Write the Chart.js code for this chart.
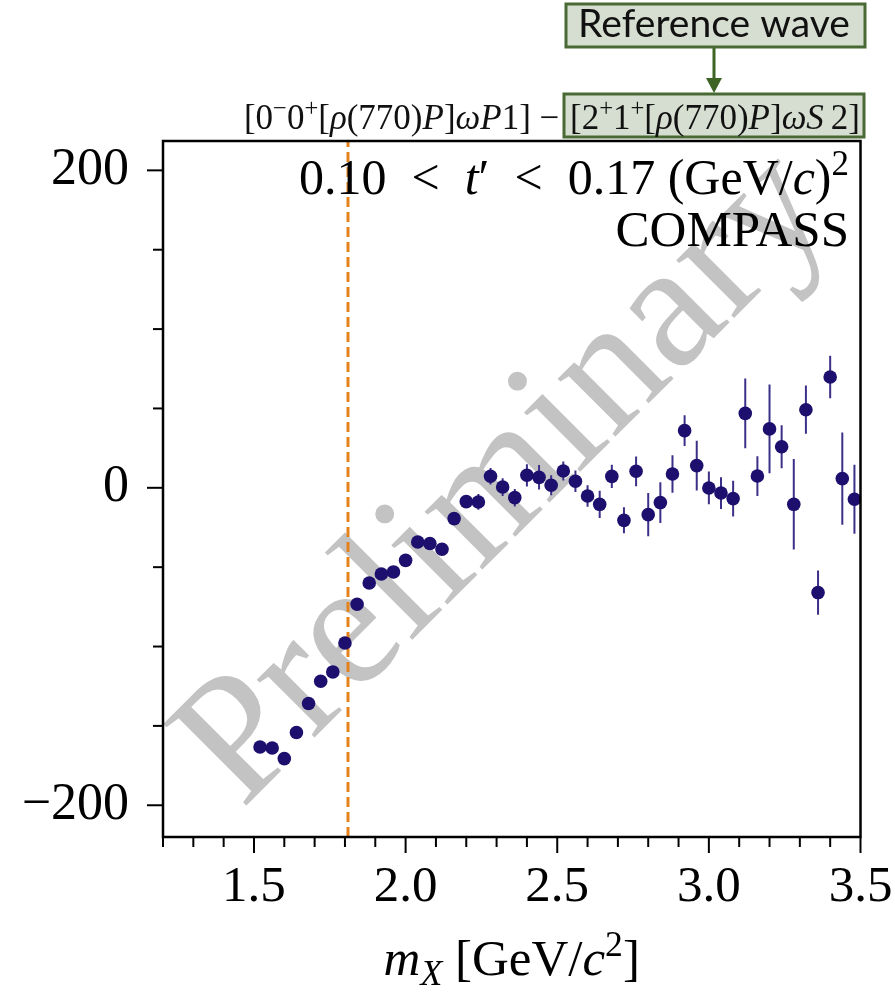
<!DOCTYPE html>
<html>
<head>
<meta charset="utf-8">
<script src="https://cdn.jsdelivr.net/npm/chart.js@4.4.1/dist/chart.umd.min.js"></script>
<style>
  html, body { margin: 0; padding: 0; background: #fff; }
  #wrap { width: 895px; height: 998px; position: relative; }
</style>
</head>
<body>
<div id="wrap"><canvas id="grafico"></canvas></div>
<script>
// masa m_X en GeV/c^2 (centros de bin)
const masas = [1.52, 1.56, 1.60, 1.64, 1.68, 1.72, 1.76, 1.80, 1.84, 1.88,
               1.92, 1.96, 2.00, 2.04, 2.08, 2.12, 2.16, 2.20, 2.24, 2.28,
               2.32, 2.36, 2.40, 2.44, 2.48, 2.52, 2.56, 2.60, 2.64, 2.68,
               2.72, 2.76, 2.80, 2.84, 2.88, 2.92, 2.96, 3.00, 3.04, 3.08,
               3.12, 3.16, 3.20, 3.24, 3.28, 3.32, 3.36, 3.40, 3.44, 3.48];
// fase relativa (grados)
const fases = [-163.3, -163.9, -170.6, -154.2, -135.9, -121.9, -116.0, -97.8, -73.4, -60.0,
               -54.3, -53.0, -45.7, -34.1, -35.1, -38.7, -19.4, -8.7, -8.9, 7.3,
               0.5, -6.2, 7.9, 6.6, 1.6, 10.6, 4.1, -5.2, -10.4, 7.2,
               -20.5, 10.4, -16.9, -9.3, 8.7, 36.0, 14.0, -0.1, -3.3, -6.8,
               46.9, 7.4, 37.1, 25.9, -10.4, 49.2, -66.0, 69.8, 5.8, -7.2];
const errores = [2, 2, 2, 2, 2, 2.5, 2.5, 2.5, 2.5, 3,
                 3, 3, 3, 3, 3, 3.5, 3.5, 4, 5, 5.2,
                 5.6, 5.5, 7, 7.7, 6.3, 6, 6.8, 6.8, 8.6, 7.3,
                 8.2, 9.4, 13.6, 12.8, 11.8, 9.7, 15.7, 10.3, 10, 11.3,
                 22, 12.5, 28, 13.5, 28.5, 15.2, 13.9, 13.4, 29, 21.7];
const etiquetasX = ['1.5', '2.0', '2.5', '3.0', '3.5'];
const valoresY = [-200, 0, 200];
const limitesX = [1.2, 3.5];
const limitesY = [-220, 218.5];
const corte = 1.81;

const SERIF = "'Liberation Serif', 'Times New Roman', serif";
const COLOR_PUNTO = '#1c0f6e';

// texto con cursivas, superindices y subindices
function piezas(ctx, partes, size) {
    return partes.map(([txt, st]) => {
        let f = size, dy = 0, it = false;
        if (st === 'i') it = true;
        if (st === 'sup') { f = size * 0.7; dy = -size * 0.38; }
        if (st === 'sub') { f = size * 0.7; dy = size * 0.2; it = true; }
        const font = (it ? 'italic ' : '') + f + 'px ' + SERIF;
        ctx.font = font;
        return { txt, font, dy, w: ctx.measureText(txt).width };
    });
}
function dibujaRico(ctx, partes, x, y, size, align) {
    const ps = piezas(ctx, partes, size);
    const total = ps.reduce((s, p) => s + p.w, 0);
    let cx = align === 'right' ? x - total : align === 'center' ? x - total / 2 : x;
    ctx.textAlign = 'left';
    ctx.textBaseline = 'alphabetic';
    ps.forEach(p => {
        ctx.font = p.font;
        ctx.fillText(p.txt, cx, y + p.dy);
        cx += p.w;
    });
    return total;
}

const pluginMarco = {
    id: 'marco',
    beforeDatasetsDraw(chart) {
        const ctx = chart.ctx;
        ctx.save();
        ctx.translate(242, 810);
        ctx.rotate(-Math.PI / 4);
        ctx.font = '178px ' + SERIF;
        ctx.fillStyle = '#c3c3c3';
        ctx.textAlign = 'left';
        ctx.textBaseline = 'alphabetic';
        ctx.fillText('Preliminary', 0, 0);
        ctx.restore();
    },
    beforeDatasetDraw(chart, args) {
        if (args.index !== 1) return;
        const ctx = chart.ctx;
        const x = chart.scales.x, y = chart.scales.y;
        const a = chart.chartArea;
        ctx.save();
        ctx.beginPath();
        ctx.rect(a.left, a.top, a.right - a.left, a.bottom - a.top);
        ctx.clip();
        ctx.strokeStyle = '#3b3088';
        ctx.lineWidth = 2;
        masas.forEach((m, i) => {
            const px = x.getPixelForValue(m);
            ctx.beginPath();
            ctx.moveTo(px, y.getPixelForValue(fases[i] - errores[i]));
            ctx.lineTo(px, y.getPixelForValue(fases[i] + errores[i]));
            ctx.stroke();
        });
        ctx.restore();
    },
    afterDraw(chart) {
        const ctx = chart.ctx;
        const a = chart.chartArea;
        const sx = chart.scales.x, sy = chart.scales.y;
        ctx.save();
        ctx.strokeStyle = '#000';
        ctx.lineWidth = 2.5;
        ctx.strokeRect(a.left, a.top, a.right - a.left, a.bottom - a.top);

        ctx.lineWidth = 2;
        sx.ticks.forEach(t => {
            const v = Math.round(t.value * 10) / 10;
            const mayor = etiquetasX.includes(v.toFixed(1));
            const px = sx.getPixelForValue(v);
            ctx.beginPath();
            ctx.moveTo(px, a.bottom);
            ctx.lineTo(px, a.bottom + (mayor ? 16 : 10));
            ctx.stroke();
        });
        sy.ticks.forEach(t => {
            const v = t.value;
            if (Math.abs(v % 50) > 1e-6) return;
            const mayor = valoresY.includes(v);
            const py = sy.getPixelForValue(v);
            ctx.beginPath();
            ctx.moveTo(a.left, py);
            ctx.lineTo(a.left - (mayor ? 16 : 10), py);
            ctx.stroke();
        });

        ctx.fillStyle = '#000';
        // titulo del eje X
        dibujaRico(ctx, [['m', 'i'], ['X', 'sub'], [' [GeV/', 'n'], ['c', 'i'], ['2', 'sup'], [']', 'n']],
            (a.left + a.right) / 2, 975, 51, 'center');

        // textos dentro del grafico
        dibujaRico(ctx, [['0.10\u2002<\u2002', 'n'], ['t', 'i'], ['\u2032', 'n'], ['\u2002<\u20020.17 (GeV/', 'n'], ['c', 'i'], [')', 'n'], ['2', 'sup']],
            849, 194, 50, 'right');
        ctx.font = '51px ' + SERIF;
        ctx.textAlign = 'right';
        ctx.fillText('COMPASS', 849, 246);

        // titulo con onda de referencia
        const tam = 35;
        const parte2 = [['[2', 'n'], ['+', 'sup'], ['1', 'n'], ['+', 'sup'], ['[', 'n'], ['\u03C1', 'i'], ['(770)', 'n'],
                        ['P', 'i'], [']', 'n'], ['\u03C9', 'i'], ['S', 'i'], ['\u20092]', 'n']];
        const parte1 = [['[0', 'n'], ['\u2212', 'sup'], ['0', 'n'], ['+', 'sup'], ['[', 'n'], ['\u03C1', 'i'], ['(770)', 'n'],
                        ['P', 'i'], [']', 'n'], ['\u03C9', 'i'], ['P', 'i'], ['1] \u2212 ', 'n']];
        ctx.fillStyle = '#d5ded0';
        ctx.strokeStyle = '#4a6a35';
        ctx.lineWidth = 3;
        ctx.fillRect(564, 94, 300, 43);
        ctx.strokeRect(564, 94, 300, 43);
        ctx.fillRect(566, 4, 299, 43);
        ctx.strokeRect(566, 4, 299, 43);

        ctx.fillStyle = '#111';
        const w2 = dibujaRico(ctx, parte2, 860, 129, tam, 'right');
        dibujaRico(ctx, parte1, 860 - w2 - 2, 129, tam, 'right');

        // caja "Reference wave"
        ctx.font = '31px Lato, sans-serif';
        const ancho = ctx.measureText('Reference wave').width;
        ctx.font = (31 * 272 / ancho).toFixed(1) + 'px Lato, sans-serif';
        ctx.textAlign = 'center';
        ctx.textBaseline = 'alphabetic';
        ctx.fillStyle = '#111';
        ctx.fillText('Reference wave', 714, 37);

        // flecha
        ctx.strokeStyle = '#3d6424';
        ctx.fillStyle = '#3d6424';
        ctx.lineWidth = 3;
        ctx.beginPath();
        ctx.moveTo(714, 48);
        ctx.lineTo(714, 80);
        ctx.stroke();
        ctx.beginPath();
        ctx.moveTo(706, 78);
        ctx.lineTo(722, 78);
        ctx.lineTo(714, 93);
        ctx.closePath();
        ctx.fill();
        ctx.restore();
    }
};

const ctx = document.getElementById('grafico').getContext('2d');
new Chart(ctx, {
    data: {
        datasets: [
            {
                type: 'line',
                data: [{ x: corte, y: limitesY[0] }, { x: corte, y: limitesY[1] }],
                borderColor: '#e5821c',
                borderWidth: 3,
                borderDash: [10, 5],
                pointRadius: 0,
                order: 2
            },
            {
                type: 'scatter',
                data: masas.map((m, i) => ({ x: m, y: fases[i] })),
                backgroundColor: COLOR_PUNTO,
                borderWidth: 0,
                pointRadius: 6.8,
                pointHoverRadius: 6.8,
                order: 1
            }
        ]
    },
    options: {
        responsive: true,
        maintainAspectRatio: false,
        animation: false,
        layout: { padding: { top: 141, right: 34.5, left: 0, bottom: 0 } },
        plugins: {
            legend: { display: false },
            tooltip: { enabled: false }
        },
        scales: {
            x: {
                type: 'linear',
                min: limitesX[0],
                max: limitesX[1],
                grid: { display: false },
                border: { display: false },
                ticks: {
                    stepSize: 0.1,
                    autoSkip: false,
                    maxRotation: 0,
                    padding: 12,
                    color: '#000',
                    font: { family: SERIF, size: 51 },
                    callback: function(v) {
                        const s = (Math.round(v * 10) / 10).toFixed(1);
                        return etiquetasX.includes(s) ? s : '';
                    }
                },
                afterFit: function(scale) {
                    scale.height = 161;
                    scale.paddingLeft = 0;
                    scale.paddingRight = 0;
                }
            },
            y: {
                type: 'linear',
                min: limitesY[0],
                max: limitesY[1],
                grid: { display: false },
                border: { display: false },
                ticks: {
                    stepSize: 50,
                    includeBounds: false,
                    autoSkip: false,
                    padding: 26,
                    color: '#000',
                    font: { family: SERIF, size: 52 },
                    callback: function(v) {
                        return valoresY.includes(v) ? String(v).replace('-', '\u2212') : '';
                    }
                },
                afterFit: function(scale) {
                    scale.width = 163;
                    scale.paddingTop = 0;
                    scale.paddingBottom = 0;
                }
            }
        }
    },
    plugins: [pluginMarco]
});
</script>
</body>
</html>
